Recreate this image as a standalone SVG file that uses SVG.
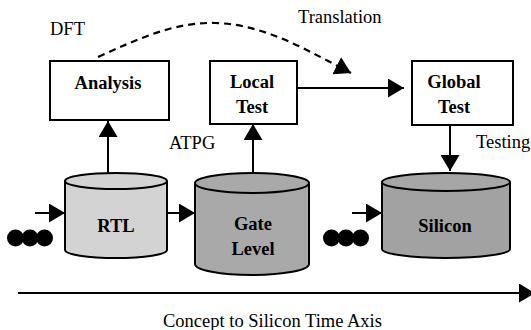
<svg xmlns="http://www.w3.org/2000/svg" width="531" height="330" viewBox="0 0 531 330">
<style>
text{font-family:"Liberation Serif","Times New Roman",serif;font-size:18.5px;fill:#000}
.b{font-weight:bold;text-anchor:middle}
.box{fill:#fff;stroke:#000;stroke-width:2}
.cyl{stroke:#000;stroke-width:2}
.line{fill:none;stroke:#000;stroke-width:2}
.dash{fill:none;stroke:#000;stroke-width:2.2;stroke-dasharray:7 5}
.dot{fill:#000}
</style>
<defs>
<marker id="ah" markerUnits="userSpaceOnUse" markerWidth="17" markerHeight="19" refX="16" refY="9.5" orient="auto">
<path d="M0,0 L16,9.5 L0,19 Z" fill="#000"/>
</marker>
</defs>
<rect width="531" height="330" fill="#fff"/>

<g id="connectors">
<path class="dash" d="M98,57 C140,38 175,22 215,23 C265,24 310,52 351,73" marker-end="url(#ah)"/>
<line class="line" x1="108" y1="173" x2="108" y2="121" marker-end="url(#ah)"/>
<line class="line" x1="253" y1="173" x2="253" y2="124" marker-end="url(#ah)"/>
<line class="line" x1="297" y1="88" x2="404" y2="88" marker-end="url(#ah)"/>
<line class="line" x1="450" y1="125" x2="450" y2="171" marker-end="url(#ah)"/>
<line class="line" x1="35" y1="213" x2="65" y2="213" marker-end="url(#ah)"/>
<line class="line" x1="167" y1="213" x2="195" y2="213" marker-end="url(#ah)"/>
<line class="line" x1="352" y1="213" x2="382" y2="213" marker-end="url(#ah)"/>
<line class="line" x1="18" y1="293" x2="535" y2="293" marker-end="url(#ah)"/>
</g>

<g id="analysis">
<rect class="box" x="50" y="61" width="119" height="59"/>
<text class="b" x="108" y="89">Analysis</text>
</g>
<g id="local-test">
<rect class="box" x="210" y="61" width="87" height="63"/>
<text class="b" x="252" y="88">Local</text>
<text class="b" x="252" y="113">Test</text>
</g>
<g id="global-test">
<rect class="box" x="412" y="61" width="101" height="64"/>
<text class="b" x="454" y="88">Global</text>
<text class="b" x="454" y="113">Test</text>
</g>

<g id="rtl">
<path class="cyl" fill="#d3d3d3" d="M65,181 V250 A51,8 0 0 0 167,250 V181"/>
<ellipse class="cyl" fill="#d3d3d3" cx="116" cy="181" rx="51" ry="8"/>
<text class="b" x="116" y="232">RTL</text>
</g>
<g id="gate-level">
<path class="cyl" fill="#a9a9a9" d="M195,183 V264 A57,11 0 0 0 309,264 V183"/>
<ellipse class="cyl" fill="#a9a9a9" cx="252" cy="183" rx="57" ry="10"/>
<text class="b" x="253" y="230">Gate</text>
<text class="b" x="253" y="255">Level</text>
</g>
<g id="silicon">
<path class="cyl" fill="#a2a2a2" d="M382,182 V249 A64,9 0 0 0 510,249 V182"/>
<ellipse class="cyl" fill="#a6a6a6" cx="446" cy="182" rx="64" ry="9"/>
<text class="b" x="445" y="232">Silicon</text>
</g>

<g id="dots-left">
<circle class="dot" cx="15.5" cy="238" r="8.5"/>
<circle class="dot" cx="30" cy="238" r="8.5"/>
<circle class="dot" cx="44.5" cy="238" r="8.5"/>
</g>
<g id="dots-right">
<circle class="dot" cx="331.5" cy="238" r="8.5"/>
<circle class="dot" cx="346" cy="238" r="8.5"/>
<circle class="dot" cx="360.5" cy="238" r="8.5"/>
</g>

<g id="labels">
<text x="50" y="35">DFT</text>
<text x="298" y="23">Translation</text>
<text x="169" y="149">ATPG</text>
<text x="476" y="148">Testing</text>
<text x="163" y="327">Concept to Silicon Time Axis</text>
</g>
</svg>
